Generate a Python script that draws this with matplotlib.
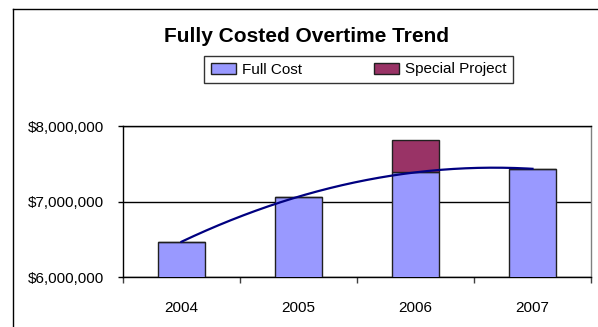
import numpy as np
import matplotlib
matplotlib.use("Agg")
import matplotlib.pyplot as plt
from matplotlib.lines import Line2D
from matplotlib.patches import Patch
from matplotlib.ticker import FuncFormatter, FixedLocator

plt.rcParams['font.family'] = ['Liberation Sans', 'DejaVu Sans']

years = ["2004", "2005", "2006", "2007"]
full_cost = [6470000, 7055000, 7395000, 7430000]
special_project = [0, 0, 425000, 0]
y_ticks = [6000000, 7000000, 8000000]

fig = plt.figure(figsize=(5.98, 3.27), dpi=100)
fig.patch.set_facecolor("white")

# outer chart frame (left and top edges)
fig.add_artist(Line2D([13 / 598, 13 / 598], [0, 1 - 9 / 327], transform=fig.transFigure,
                      color="black", lw=1.0))
fig.add_artist(Line2D([13 / 598, 1], [1 - 9 / 327, 1 - 9 / 327], transform=fig.transFigure,
                      color="black", lw=1.0))

ax = fig.add_axes([123 / 598, 1 - 277 / 327, (591 - 123) / 598, (277 - 126) / 327])

x = np.arange(len(years))
width = 0.4
ax.bar(x, full_cost, width, color="#9999FF", edgecolor="#202020", linewidth=1.0,
       zorder=3, label="Full Cost")
ax.bar(x, special_project, width, bottom=full_cost, color="#993366", edgecolor="#202020",
       linewidth=1.0, zorder=3, label="Special Project")

# second-order polynomial trend of the full cost series
coef = np.polyfit(x, full_cost, 2)
xs = np.linspace(0, 3, 200)
ax.plot(xs, np.polyval(coef, xs), color="#000080", lw=1.6, zorder=4)

ax.set_xlim(-0.5, 3.5)
ax.set_ylim(6000000, 8000000)
ax.set_yticks(y_ticks)
ax.yaxis.set_major_formatter(FuncFormatter(lambda v, p: "${:,.0f}".format(v)))
ax.yaxis.grid(True, color="black", lw=1.0, zorder=0)
ax.set_axisbelow(True)

ax.set_xticks(x)
ax.set_xticklabels(years)
ax.xaxis.set_minor_locator(FixedLocator(np.arange(-0.5, 4.0, 1.0)))
ax.tick_params(axis="x", which="major", length=0, pad=17, labelsize=11)
ax.tick_params(axis="x", which="minor", length=4.5, width=1.0, color="#404040")
ax.tick_params(axis="y", length=3.6, width=1.0, pad=10, labelsize=11)

for side in ["left", "bottom", "top"]:
    ax.spines[side].set_color("black")
    ax.spines[side].set_linewidth(1.0)
ax.spines["right"].set_color("#808080")
ax.spines["right"].set_linewidth(1.0)

fig.text(307 / 598, 1 - 36 / 327, "Fully Costed Overtime Trend", ha="center", va="center",
         fontsize=15, fontweight="bold")

handles = [Patch(facecolor="#9999FF", edgecolor="#202020", lw=1.0),
           Patch(facecolor="#993366", edgecolor="#202020", lw=1.0)]
leg = fig.legend(handles, ["Full Cost", "Special Project"], ncol=2,
                 loc="center", bbox_to_anchor=(358.5 / 598, 1 - 69.5 / 327),
                 fontsize=11, frameon=True, fancybox=False, edgecolor="black",
                 handlelength=1.65, handleheight=0.7, handletextpad=0.4,
                 columnspacing=4.7, borderpad=0.4, borderaxespad=0)
leg.get_frame().set_linewidth(1.0)

fig.savefig("out.png", dpi=100, facecolor="white")
